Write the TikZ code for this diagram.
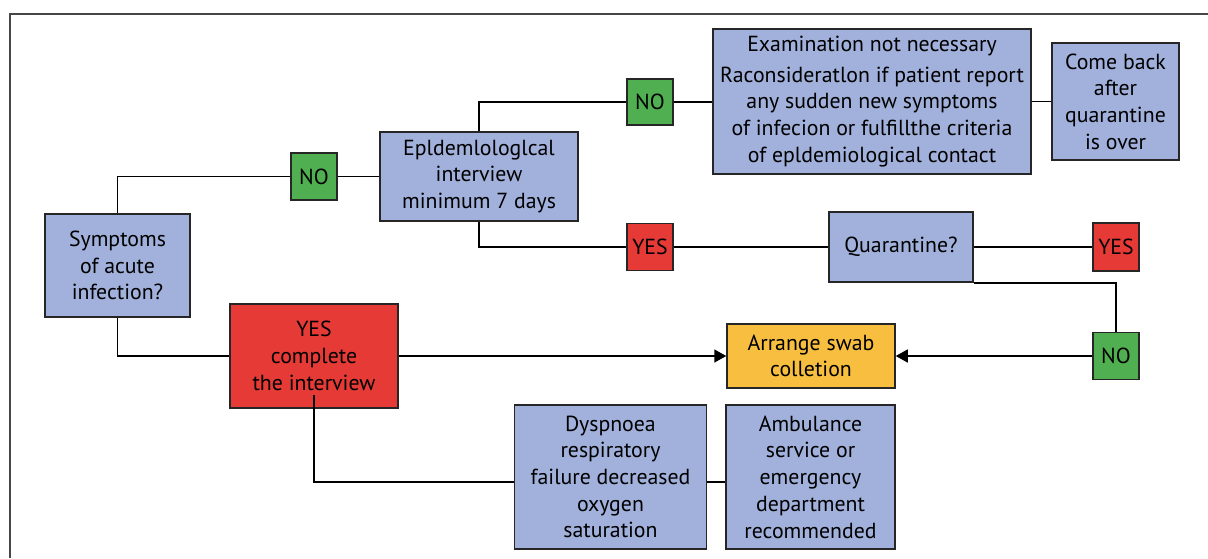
\documentclass[tikz,border=0pt]{standalone}
\usepackage{fontspec}
\setmainfont{PT Sans}
\usetikzlibrary{arrows.meta,positioning}
\definecolor{boxblue}{RGB}{161,177,219}
\definecolor{boxgreen}{RGB}{80,175,80}
\definecolor{boxred}{RGB}{230,58,54}
\definecolor{boxorange}{RGB}{248,190,64}
\definecolor{framegray}{RGB}{70,70,70}
\tikzset{
  box/.style={draw=black!85, line width=1.5pt, align=center, inner sep=0pt,
    rectangle, font=\fontsize{21.8}{26.7}\selectfont},
  bluebox/.style={box, fill=boxblue},
  greenbox/.style={box, fill=boxgreen, minimum width=46pt, minimum height=47pt},
  redsq/.style={box, fill=boxred, minimum width=46pt, minimum height=47pt},
  conn/.style={draw=black, line width=1.5pt},
  arr/.style={conn, -{Triangle[length=12pt,width=13pt]}}
}
\begin{document}
\begin{tikzpicture}[x=1pt,y=-1pt]
\useasboundingbox (0,0) rectangle (1208,558);
\draw[framegray, line width=1.5pt] (10,558) -- (10,14) -- (1208,14);

\node[bluebox, minimum width=145pt, minimum height=103pt] (sym) at (117.5,265.5) {Symptoms\\of acute\\infection?};
\node[greenbox] (no1) at (314,176.5) {NO};
\node[bluebox, minimum width=198pt, minimum height=89pt] (epid) at (479,176.5) {Epldemlologlcal\\interview\\minimum 7 days};
\node[greenbox, minimum height=46pt] (no2) at (650,102) {NO};
\node[redsq] (yes1) at (650,247) {YES};
\node[bluebox, minimum width=318pt, minimum height=145pt] (exam) at (872,101.5) {Examination not necessary\\[4pt]Raconsideratlon if patient report\\any sudden new symptoms\\of infecion or fulfillthe criteria\\of epldemiological contact};
\node[bluebox, minimum width=127pt, minimum height=117pt] (come) at (1115.5,101.5) {Come back\\after\\quarantine\\is over};
\node[bluebox, minimum width=144pt, minimum height=70pt] (quar) at (901,247) {Quarantine?};
\node[redsq, minimum height=48pt] (yes2) at (1116,247) {YES};
\node[greenbox] (no3) at (1116,356) {NO};
\node[box, fill=boxorange, minimum width=168pt, minimum height=64pt] (swab) at (811,356) {Arrange swab\\colletion};
\node[box, fill=boxred, minimum width=168pt, minimum height=104pt] (red) at (314,356) {YES\\complete\\the interview};
\node[bluebox, minimum width=192pt, minimum height=144pt] (dysp) at (610.5,477) {Dyspnoea\\respiratory\\failure decreased\\oxygen\\saturation};
\node[bluebox, minimum width=169pt, minimum height=144pt] (amb) at (810.5,477) {Ambulance\\service or\\emergency\\department\\recommended};

\coordinate (redtail) at ([yshift=14pt]red.south);

\draw[conn] (sym.north) |- (no1.west);
\draw[conn] (no1.east) -- (no1.east -| epid.west);
\draw[conn] (epid.north) |- (no2.west);
\draw[conn] (no2.east) -- (no2.east -| exam.west);
\draw[conn] (exam.east) -- (come.west);
\draw[conn] (epid.south) |- (yes1.west);
\draw[conn] (yes1.east) -- (quar.west);
\draw[conn] (quar.east) -- (yes2.west);
\draw[conn] (quar.south east) -| (no3.north);
\draw[arr] (no3.west) -- (swab.east);
\draw[conn] (sym.south) |- (red.west);
\draw[arr] (red.east) -- (swab.west);
\draw[conn] (redtail) |- ([yshift=-5pt]dysp.west);
\draw[conn] ([yshift=-5pt]dysp.east) -- ([yshift=-5pt]amb.west);
\end{tikzpicture}
\end{document}
